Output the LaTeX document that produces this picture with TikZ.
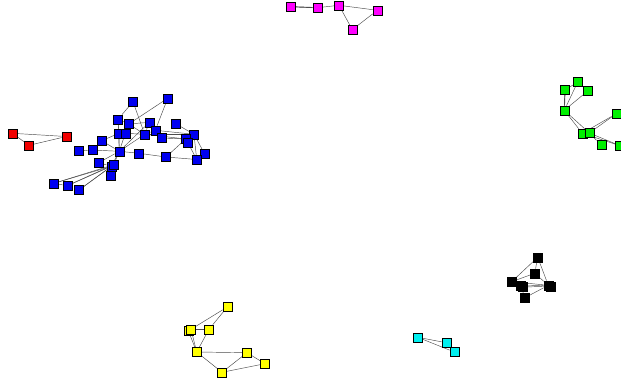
\documentclass[tikz,border=0pt]{standalone}
\usepackage{xcolor}
\usepackage{tikz}
\usetikzlibrary{backgrounds}
\definecolor{vblue}{RGB}{0,0,240}
\definecolor{vred}{RGB}{240,0,0}
\definecolor{vmagenta}{RGB}{255,0,255}
\definecolor{vgreen}{RGB}{0,240,0}
\definecolor{vyellow}{RGB}{255,255,0}
\definecolor{vcyan}{RGB}{0,240,240}
\tikzset{
  vtx/.style={rectangle,draw=black,line width=0.35pt,minimum size=9pt,inner sep=0pt},
  lnk/.style={draw=black!70,line width=0.45pt}
}

\begin{document}
\begin{tikzpicture}[x=1pt,y=-1pt]
  \useasboundingbox (0,0) rectangle (621,380);
  % blue cluster
  \foreach \n/\x/\y in {b1/167.7/98.3,b2/133/101.7,b3/118/119.3,b4/128.7/124,b5/149.3/122.3,
      b6/175.7/123.7,b7/119/133.3,b8/125.3/133.3,b9/144.7/134.3,b10/155.3/130.3,b11/161.7/138,
      b12/194/134.3,b13/185.7/139,b14/187.7/142.3,b15/101.7/140.7,b16/92.3/150,b17/78.3/151,
      b18/119.3/151.3,b19/139/153.3,b20/166/157,b21/204.7/154,b22/196.7/159.5,b23/98.7/162.7,
      b24/111.3/166.3,b25/113.7/164.7,b26/110.3/175.7,b27/54/183.3,b28/67.3/185.7,b29/79/190}
    \node[vtx,fill=vblue] (\n) at (\x,\y) {};
  % red
  \foreach \n/\x/\y in {r1/12.3/133.3,r2/29/145.3,r3/66.3/136.5}
    \node[vtx,fill=vred] (\n) at (\x,\y) {};
  % magenta
  \foreach \n/\x/\y in {m1/290.3/6.7,m2/317.3/7.7,m3/339/5.3,m4/377.3/10.3,m5/352.3/29.7}
    \node[vtx,fill=vmagenta] (\n) at (\x,\y) {};
  % green
  \foreach \n/\x/\y in {g1/565/90,g2/577.7/82,g3/587.7/91,g4/564.3/110.3,g5/616.3/113.7,
      g6/582.3/133.3,g7/589.3/133,g8/601.3/145,g9/620/145.7}
    \node[vtx,fill=vgreen] (\n) at (\x,\y) {};
  % yellow
  \foreach \n/\x/\y in {y1/227.3/307,y2/188.3/330.7,y3/191/329.3,y4/209/329.3,y5/196.7/352,
      y6/247/352.7,y7/265/363.7,y8/222/372.3}
    \node[vtx,fill=vyellow] (\n) at (\x,\y) {};
  % black
  \foreach \n/\x/\y in {k1/537.7/257.3,k2/534.7/273.3,k3/511.7/281.7,k4/520.7/286,k5/523/287,
      k6/548.3/285.3,k7/550.7/286.3,k8/525/297.7}
    \node[vtx,fill=black] (\n) at (\x,\y) {};
  % cyan
  \foreach \n/\x/\y in {c1/417.7/337.3,c2/446.3/342.7,c3/454.3/352}
    \node[vtx,fill=vcyan] (\n) at (\x,\y) {};

  \begin{pgfonlayer}{background}
    \fill[white] (0,0) rectangle (621,380);
    \foreach \a/\b in {b27/b28,b27/b25,b27/b24,b28/b25,b28/b24,b29/b24,b29/b25,b23/b24,b23/b18,
        b26/b24,b25/b18,b24/b18,b17/b16,b16/b18,b15/b18,b15/b7,b18/b7,b18/b8,b18/b3,b18/b9,
        b18/b5,b18/b19,b19/b20,b20/b22,b20/b13,b21/b22,b21/b12,b12/b22,b13/b12,b6/b12,b10/b12,
        b9/b12,b11/b13,b10/b11,b9/b10,b5/b10,b5/b9,b4/b5,b3/b4,b3/b7,b2/b3,b2/b9,b1/b4,b1/b10,
        b7/b8,b8/b9,b4/b9,b14/b12,b14/b22,b9/b13}
      \draw[lnk] (\a) -- (\b);
    \foreach \a/\b in {r1/r3,r2/r3,r1/r2,
        m1/m2,m2/m3,m3/m4,m3/m5,m4/m5,
        g1/g4,g1/g2,g2/g3,g4/g2,g4/g3,g4/g6,g4/g7,g6/g5,g7/g5,g6/g9,g7/g9,g7/g8,
        y1/y3,y1/y4,y3/y4,y3/y5,y4/y5,y2/y5,y5/y6,y5/y8,y6/y7,y8/y6,y8/y7,
        k1/k3,k1/k2,k1/k6,k2/k3,k2/k6,k3/k4,k3/k6,k4/k6,k5/k7,k8/k6,k4/k8,
        c1/c2,c1/c3,c2/c3}
      \draw[lnk] (\a) -- (\b);
    % doubled links
    \draw[lnk,line width=0.9pt] (m1) -- (m2);
    \draw[lnk,line width=0.9pt] (g1) -- (g4);
    \draw[lnk,line width=0.9pt] (y3) -- (y4);
  \end{pgfonlayer}
\end{tikzpicture}
\end{document}
